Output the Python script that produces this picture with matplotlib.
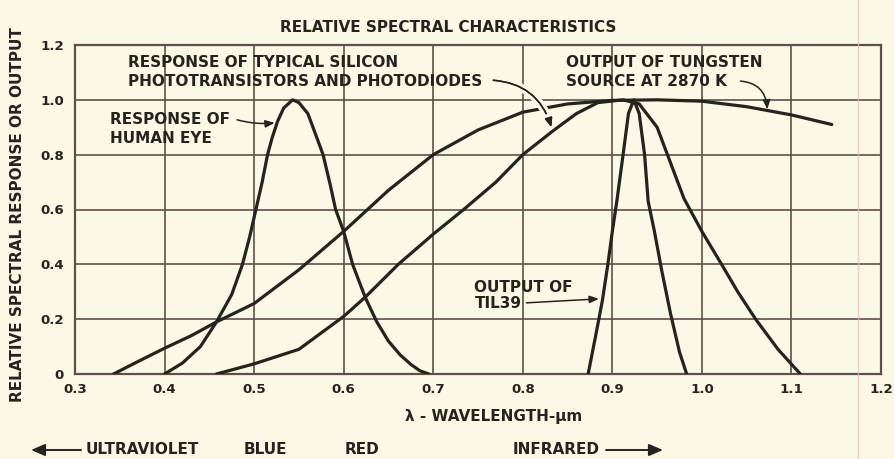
import matplotlib
matplotlib.use("Agg")
import matplotlib.pyplot as plt
from matplotlib.lines import Line2D
from matplotlib.patches import FancyArrowPatch
import matplotlib.patheffects as pe

# ---- data ----
eye_x = [0.400, 0.420, 0.440, 0.458, 0.475, 0.487, 0.495, 0.502, 0.509, 0.515, 0.520, 0.526, 0.533,
         0.543, 0.550, 0.560, 0.568, 0.577, 0.585, 0.591, 0.600, 0.610, 0.624, 0.637, 0.650, 0.663,
         0.675, 0.685, 0.695]
eye_y = [0.00, 0.04, 0.10, 0.19, 0.29, 0.40, 0.50, 0.60, 0.70, 0.80, 0.86, 0.92, 0.97,
         1.00, 0.99, 0.95, 0.88, 0.80, 0.69, 0.60, 0.52, 0.40, 0.28, 0.19, 0.12, 0.07,
         0.035, 0.012, 0.00]

tung_x = [0.343, 0.370, 0.400, 0.430, 0.458, 0.500, 0.550, 0.600, 0.650, 0.700, 0.750, 0.800,
          0.850, 0.900, 0.950, 1.000, 1.050, 1.100, 1.145]
tung_y = [0.00, 0.045, 0.094, 0.14, 0.19, 0.257, 0.38, 0.52, 0.67, 0.80, 0.89, 0.955,
          0.985, 0.998, 1.00, 0.995, 0.975, 0.945, 0.91]

si_x = [0.458, 0.500, 0.550, 0.600, 0.624, 0.661, 0.700, 0.734, 0.770, 0.800, 0.835, 0.860,
        0.884, 0.912, 0.930, 0.950, 0.965, 0.980, 1.000, 1.022, 1.040, 1.060, 1.085, 1.110]
si_y = [0.00, 0.037, 0.09, 0.21, 0.28, 0.40, 0.51, 0.60, 0.70, 0.80, 0.89, 0.95,
        0.99, 1.00, 0.985, 0.90, 0.77, 0.64, 0.52, 0.40, 0.30, 0.20, 0.09, 0.00]

til_x = [0.873, 0.882, 0.889, 0.895, 0.900, 0.905, 0.912, 0.918, 0.924, 0.930, 0.936, 0.940,
         0.947, 0.955, 0.965, 0.975, 0.983]
til_y = [0.00, 0.15, 0.27, 0.40, 0.52, 0.63, 0.80, 0.95, 1.00, 0.95, 0.80, 0.63,
         0.52, 0.38, 0.22, 0.08, 0.00]

x_ticks = [0.3, 0.4, 0.5, 0.6, 0.7, 0.8, 0.9, 1.0, 1.1, 1.2]
x_tick_labels = ["0.3", "0.4", "0.5", "0.6", "0.7", "0.8", "0.9", "1.0", "1.1", "1.2"]
y_ticks = [0, 0.2, 0.4, 0.6, 0.8, 1.0, 1.2]
y_tick_labels = ["0", "0.2", "0.4", "0.6", "0.8", "1.0", "1.2"]

# ---- style ----
BG = "#fcf8e6"
INK = "#24241c"
GRID = "#5e5048"
FONT = "DejaVu Sans"
FS = 11.0
TFS = 9.6

plt.rcParams["font.family"] = [FONT]

W, H = 894, 459
fig = plt.figure(figsize=(W / 100, H / 100), dpi=100, facecolor=BG)
ax = fig.add_axes([75 / W, 1 - 374 / H, (881 - 75) / W, (374 - 45) / H])
ax.set_facecolor(BG)

ax.set_xlim(0.3, 1.2)
ax.set_ylim(0, 1.2)
ax.set_xticks(x_ticks)
ax.set_xticklabels(x_tick_labels)
ax.set_yticks(y_ticks)
ax.set_yticklabels(y_tick_labels)
ax.tick_params(axis="x", length=0, pad=6.5, labelsize=TFS, colors=INK)
ax.tick_params(axis="y", length=0, pad=8, labelsize=TFS, colors=INK)
for lab in ax.get_xticklabels() + ax.get_yticklabels():
    lab.set_fontweight("bold")
ax.grid(True, color=GRID, linewidth=1.2)
ax.set_axisbelow(True)
for s in ax.spines.values():
    s.set_color(GRID)
    s.set_linewidth(1.6)

lw = 2.3
ckw = dict(color=INK, lw=lw, solid_capstyle="round", solid_joinstyle="round", zorder=3)
ax.plot(eye_x, eye_y, **ckw)
ax.plot(tung_x, tung_y, **ckw)
ax.plot(si_x, si_y, **ckw)
ax.plot(til_x, til_y, **ckw)

tkw = dict(fontsize=FS, fontweight="bold", color=INK)
akw = dict(arrowstyle="-|>,head_length=0.55,head_width=0.22", color=INK, lw=1.1,
           shrinkA=2, shrinkB=0)
halo = [pe.withStroke(linewidth=6, foreground=BG), pe.Normal()]

ax.text(0.359, 1.10, "RESPONSE OF TYPICAL SILICON\nPHOTOTRANSISTORS AND PHOTODIODES",
        ha="left", va="center", linespacing=1.32, **tkw)
a = ax.annotate("", xy=(0.832, 0.90), xytext=(0.764, 1.072),
                arrowprops=dict(connectionstyle="arc3,rad=-0.35", **akw), zorder=5)
a.arrow_patch.set_path_effects(halo)

ax.text(0.339, 0.895, "RESPONSE OF\nHUMAN EYE", ha="left", va="center",
        linespacing=1.32, **tkw)
ax.annotate("", xy=(0.523, 0.916), xytext=(0.478, 0.930),
            arrowprops=dict(connectionstyle="arc3,rad=0.1", **akw), zorder=5)

ax.text(0.8485, 1.103, "OUTPUT OF TUNGSTEN\nSOURCE AT 2870 K", ha="left",
        va="center", linespacing=1.32, **tkw)
ax.annotate("", xy=(1.073, 0.965), xytext=(1.040, 1.069),
            arrowprops=dict(connectionstyle="arc3,rad=-0.45", **akw), zorder=5)

ax.text(0.746, 0.288, "OUTPUT OF\nTIL39", ha="left", va="center",
        linespacing=1.08, **tkw)
ax.annotate("", xy=(0.885, 0.274), xytext=(0.801, 0.259),
            arrowprops=dict(connectionstyle="arc3,rad=0.0", **akw), zorder=5)


def fx(px):
    return px / W


def fy(py):
    return 1 - py / H


fig.text(fx(448), fy(28), "RELATIVE SPECTRAL CHARACTERISTICS", ha="center", va="center", **tkw)
fig.text(fx(18), fy(215), "RELATIVE SPECTRAL RESPONSE OR OUTPUT", ha="center", va="center",
         rotation=90, **tkw)
fig.text(fx(494), fy(417), "λ - WAVELENGTH-μm", ha="center", va="center", **tkw)

fig.text(fx(86), fy(450), "ULTRAVIOLET", ha="left", va="center", **tkw)
fig.text(fx(265), fy(450), "BLUE", ha="center", va="center", **tkw)
fig.text(fx(362), fy(450), "RED", ha="center", va="center", **tkw)
fig.text(fx(513), fy(450), "INFRARED", ha="left", va="center", **tkw)
fig.add_artist(FancyArrowPatch(
    (fx(81), fy(450)), (fx(31), fy(450)), transform=fig.transFigure,
    arrowstyle="-|>,head_length=0.7,head_width=0.3", mutation_scale=12,
    color=INK, lw=1.4, shrinkA=0, shrinkB=0))
fig.add_artist(FancyArrowPatch(
    (fx(606), fy(450)), (fx(663), fy(450)), transform=fig.transFigure,
    arrowstyle="-|>,head_length=0.7,head_width=0.3", mutation_scale=12,
    color=INK, lw=1.4, shrinkA=0, shrinkB=0))

# faint margin line of the scanned page
fig.add_artist(Line2D([fx(858), fx(858)], [0, 1], transform=fig.transFigure,
                      color="#e8b8c8", lw=1.0, alpha=0.7))

fig.savefig("out.png", dpi=100, facecolor=BG)
